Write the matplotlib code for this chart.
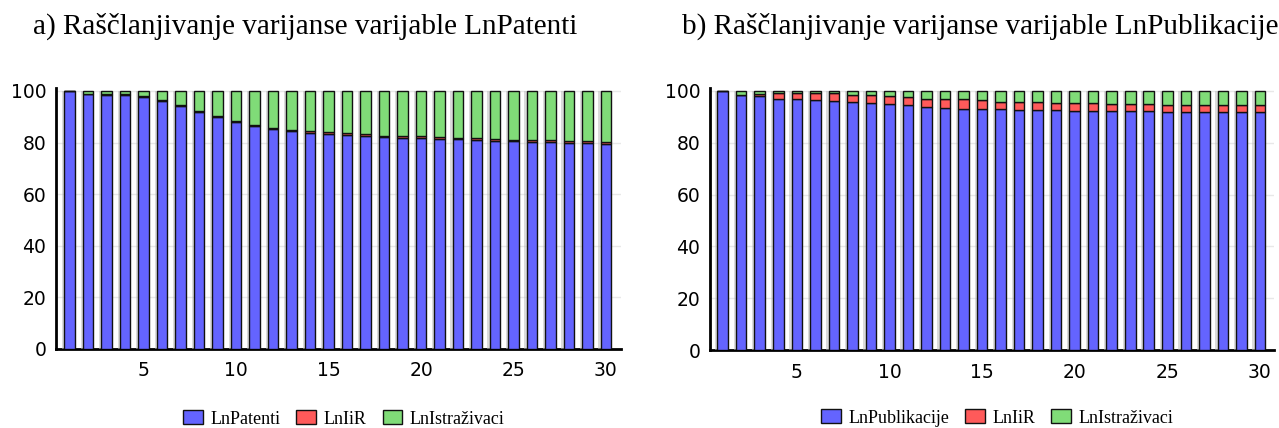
import numpy as np
import matplotlib
matplotlib.use("Agg")
import matplotlib.pyplot as plt
import matplotlib.patheffects as pe
from matplotlib.patches import Patch

# periods 1..30
periods = np.arange(1, 31)

# a) variance decomposition of LnPatenti (percent)
pat_own = [100.0, 98.7, 98.5, 98.4, 97.8, 96.2, 94.2, 91.8, 89.9, 87.8,
           86.6, 85.3, 84.5, 83.9, 83.5, 83.1, 82.7, 82.2, 81.9, 81.8,
           81.4, 81.2, 81.0, 80.8, 80.5, 80.3, 80.3, 80.0, 79.9, 79.6]
pat_iir = [0.0, 0.2, 0.3, 0.3, 0.3, 0.3, 0.3, 0.3, 0.3, 0.4,
           0.4, 0.4, 0.4, 0.5, 0.5, 0.5, 0.5, 0.5, 0.6, 0.6,
           0.6, 0.6, 0.6, 0.6, 0.6, 0.6, 0.6, 0.6, 0.6, 0.6]
pat_istr = [100 - a - b for a, b in zip(pat_own, pat_iir)]

# b) variance decomposition of LnPublikacije (percent)
pub_own = [100.0, 98.3, 97.9, 97.1, 96.8, 96.4, 96.0, 95.6, 95.2, 94.8,
           94.4, 94.0, 93.6, 93.2, 93.1, 92.9, 92.7, 92.7, 92.5, 92.3,
           92.3, 92.2, 92.1, 92.1, 91.9, 91.9, 91.9, 91.8, 91.8, 91.7]
pub_iir = [0.0, 0.3, 1.1, 2.3, 2.6, 2.7, 3.1, 3.0, 3.1, 3.3,
           3.1, 3.1, 3.3, 3.6, 3.3, 2.9, 3.2, 2.9, 2.8, 2.9,
           2.9, 2.9, 2.7, 2.7, 2.8, 2.6, 2.6, 2.6, 2.6, 2.7]
pub_istr = [100 - a - b for a, b in zip(pub_own, pub_iir)]

titles = ["a) Raščlanjivanje varijanse varijable LnPatenti",
          "b) Raščlanjivanje varijanse varijable LnPublikacije"]
legend_labels = [["LnPatenti", "LnIiR", "LnIstraživaci"],
                 ["LnPublikacije", "LnIiR", "LnIstraživaci"]]

colors = ["#6464FF", "#FF5A5A", "#80DC78"]
serif = "Liberation Serif"
W, H = 1279, 428

fig = plt.figure(figsize=(W / 100, H / 100), dpi=100)
# axes boxes in pixels: left, right, y of value 0, y of value 100
ax_a = fig.add_axes([56 / W, 1 - 349 / H, (620.7 - 56) / W, (349 - 88.4) / H])
ax_b = fig.add_axes([710 / W, 1 - 350 / H, (1274 - 710) / W, (350 - 88.4) / H])

shadow = [pe.SimplePatchShadow(offset=(-1.6, 0), shadow_rgbFace="#b8b8b8", alpha=0.5),
          pe.Normal()]

def draw_panel(ax, own, iir, istr, xlim, labels, leg_x, leg_y):
    bottom = np.zeros(len(periods))
    for vals, c in zip([own, iir, istr], colors):
        ax.bar(periods, vals, width=0.57, bottom=bottom, color=c,
               edgecolor="#111111", linewidth=1.0, path_effects=shadow, zorder=3)
        bottom += np.array(vals)
    ax.set_xlim(*xlim)
    ax.set_ylim(0, 101)
    ax.set_yticks([0, 20, 40, 60, 80, 100])
    ax.set_xticks([5, 10, 15, 20, 25, 30])
    ax.tick_params(length=0, labelsize=13.5, pad=7)
    ax.tick_params(axis="x", pad=9)
    ax.grid(axis="y", color="#e8e8e8", linewidth=1, zorder=0)
    for s in ["top", "right"]:
        ax.spines[s].set_visible(False)
    ax.spines["left"].set_linewidth(2)
    ax.spines["bottom"].set_linewidth(2)
    handles = [Patch(facecolor=c, edgecolor="#111111", label=l) for c, l in zip(colors, labels)]
    fig.legend(handles=handles, loc="center left", bbox_to_anchor=(leg_x / W, 1 - leg_y / H),
               ncol=3, frameon=False, prop={"family": serif, "size": 13},
               handlelength=1.1, handleheight=0.8, columnspacing=0.9, handletextpad=0.4,
               borderpad=0, borderaxespad=0)

draw_panel(ax_a, pat_own, pat_iir, pat_istr, (0.26, 30.8), legend_labels[0], 183, 419)
draw_panel(ax_b, pub_own, pub_iir, pub_istr, (0.315, 30.76), legend_labels[1], 821, 418)

fig.text(33 / W, 1 - 34 / H, titles[0], family=serif, fontsize=21, va="baseline")
fig.text(682 / W, 1 - 34 / H, titles[1], family=serif, fontsize=21, va="baseline")

fig.savefig("out.png", dpi=100)
